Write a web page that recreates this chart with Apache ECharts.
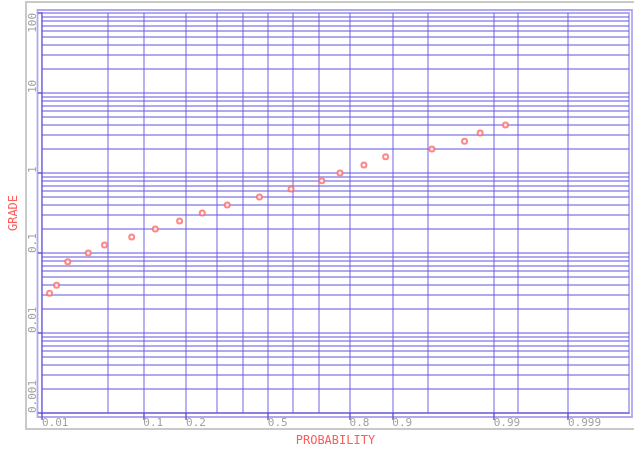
<!DOCTYPE html>
<html>
<head>
<meta charset="utf-8">
<script src="https://cdn.jsdelivr.net/npm/echarts@6/dist/echarts.min.js"></script>
<style>html,body{margin:0;padding:0;background:#fff;}#c{width:634px;height:456px;}</style>
</head>
<body>
<div id="c"></div>
<script>
// ---- data ----
const probability = [0.0123, 0.0148, 0.0197, 0.0322, 0.0463, 0.0805, 0.1234, 0.1818, 0.2498, 0.338,
                     0.4657, 0.5946, 0.7105, 0.7713, 0.8388, 0.8874, 0.9544, 0.9786, 0.9856, 0.9928];
const grade = [0.0315, 0.0395, 0.078, 0.1, 0.126, 0.158, 0.2, 0.251, 0.316, 0.398,
               0.5, 0.63, 0.8, 1.0, 1.26, 1.6, 2.0, 2.5, 3.16, 3.98];
const xTickLabels = [0.01, 0.1, 0.2, 0.5, 0.8, 0.9, 0.99, 0.999];
const xGridProbs = [0.05, 0.1, 0.2, 0.3, 0.4, 0.5, 0.6, 0.7, 0.8, 0.9, 0.95, 0.99, 0.995, 0.999];
const xRange = [0.01, 0.9999];
const yRange = [0.001, 100];
const yDecades = [0.001, 0.01, 0.1, 1, 10];
const yMinorMultipliers = [1, 2, 3, 4, 5, 6, 7, 8, 9];

// inverse standard normal CDF (Acklam) — probability scale transform
function normInv(p) {
  const a = [-3.969683028665376e+01, 2.209460984245205e+02, -2.759285104469687e+02, 1.383577518672690e+02, -3.066479806614716e+01, 2.506628274631000e+00];
  const b = [-5.447609879822406e+01, 1.615858368580409e+02, -1.556989798598866e+02, 6.680131188771972e+01, -1.328068155288572e+01];
  const c = [-7.784894002430293e-03, -3.223964580411365e-01, -2.400758277161838e+00, -2.549732539343734e+00, 4.374664141464968e+00, 2.938163982698783e+00];
  const d = [7.784695709041462e-03, 3.224671290700398e-01, 2.445134137142996e+00, 3.754408661907416e+00];
  const pl = 0.02425, ph = 1 - pl;
  let q, r;
  if (p < pl) {
    q = Math.sqrt(-2 * Math.log(p));
    return (((((c[0]*q+c[1])*q+c[2])*q+c[3])*q+c[4])*q+c[5]) / ((((d[0]*q+d[1])*q+d[2])*q+d[3])*q+1);
  } else if (p <= ph) {
    q = p - 0.5; r = q*q;
    return (((((a[0]*r+a[1])*r+a[2])*r+a[3])*r+a[4])*r+a[5])*q / (((((b[0]*r+b[1])*r+b[2])*r+b[3])*r+b[4])*r+1);
  } else {
    q = Math.sqrt(-2 * Math.log(1 - p));
    return -(((((c[0]*q+c[1])*q+c[2])*q+c[3])*q+c[4])*q+c[5]) / ((((d[0]*q+d[1])*q+d[2])*q+d[3])*q+1);
  }
}

const gridColor = 'rgba(105, 90, 222, 0.52)';
const tickColor = 'rgba(80, 65, 210, 0.85)';
const points = probability.map((p, i) => [normInv(p), grade[i]]);
const xTickZ = xTickLabels.map(normInv);
const gridLines = [];
xGridProbs.forEach(p => gridLines.push({ xAxis: normInv(p) }));
yDecades.forEach(d => yMinorMultipliers.forEach(m => {
  const v = d * m;
  if (v > yRange[0] * 1.0001) gridLines.push({ yAxis: v });
}));

const chart = echarts.init(document.getElementById('c'), null, { renderer: 'canvas' });
chart.setOption({
  animation: false,
  backgroundColor: '#ffffff',
  grid: { left: 40, top: 13, right: 5, bottom: 43, show: true, borderColor: gridColor, borderWidth: 1.8, backgroundColor: 'transparent' },
  graphic: [
    { type: 'rect', shape: { x: 26, y: 2, width: 640, height: 427 }, style: { fill: 'none', stroke: '#c9c9c9', lineWidth: 2 }, silent: true, z: 0 },
    { type: 'rect', shape: { x: 37.5, y: 10, width: 594.5, height: 407 }, style: { fill: 'none', stroke: gridColor, lineWidth: 1.8 }, silent: true, z: 1 }
  ],
  xAxis: {
    type: 'value',
    min: normInv(xRange[0]),
    max: normInv(xRange[1]),
    name: 'PROBABILITY',
    nameLocation: 'middle',
    nameGap: 22,
    nameTextStyle: { color: '#ff5c5c', fontFamily: 'DejaVu Sans Mono', fontSize: 12 },
    axisLine: { show: true, onZero: false, lineStyle: { color: gridColor, width: 1.8 } },
    axisTick: { show: true, customValues: xTickZ, length: 7, lineStyle: { color: tickColor, width: 1.5 } },
    axisLabel: {
      customValues: xTickZ,
      align: 'left',
      margin: 5,
      color: '#a2a2a2',
      fontFamily: 'DejaVu Sans Mono',
      fontSize: 11,
      formatter: function (v) {
        let best = 0, bd = Infinity;
        xTickZ.forEach((z, i) => { const dd = Math.abs(z - v); if (dd < bd) { bd = dd; best = i; } });
        return String(xTickLabels[best]);
      }
    },
    splitLine: { show: false }
  },
  yAxis: {
    type: 'log',
    logBase: 10,
    min: yRange[0],
    max: yRange[1],
    name: 'GRADE',
    nameLocation: 'middle',
    nameGap: 19,
    nameTextStyle: { color: '#ff5c5c', fontFamily: 'DejaVu Sans Mono', fontSize: 12 },
    axisLine: { show: true, onZero: false, lineStyle: { color: gridColor, width: 1.8 } },
    axisTick: { show: true, length: 4, lineStyle: { color: tickColor, width: 1.5 } },
    axisLabel: {
      rotate: 90,
      align: 'left',
      verticalAlign: 'bottom',
      alignMaxLabel: 'right',
      margin: 3,
      color: '#a2a2a2',
      fontFamily: 'DejaVu Sans Mono',
      fontSize: 11,
      formatter: function (v) { return String(+v.toPrecision(3)); }
    },
    splitLine: { show: false },
    minorTick: { show: false },
    minorSplitLine: { show: false }
  },
  series: [
    {
      type: 'scatter',
      data: [],
      z: 1,
      silent: true,
      markLine: {
        silent: true,
        precision: 12,
        symbol: ['none', 'none'],
        label: { show: false },
        emphasis: { disabled: true },
        lineStyle: { type: 'solid', color: gridColor, width: 1.8 },
        data: gridLines
      }
    },
    {
      type: 'scatter',
      z: 5,
      data: points,
      symbol: 'emptyCircle',
      symbolSize: 5,
      itemStyle: { color: '#ff6a6a', borderColor: '#ff6060', borderWidth: 1.2 }
    }
  ]
});
</script>
</body>
</html>
